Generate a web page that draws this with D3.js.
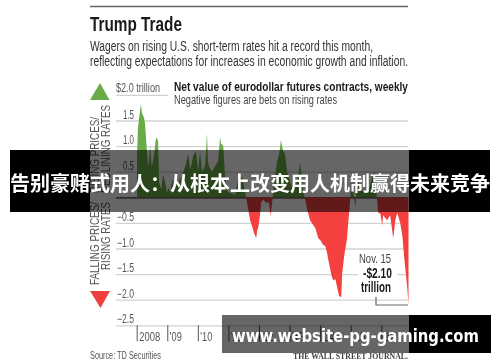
<!DOCTYPE html>
<html>
<head>
<meta charset="utf-8">
<script src="https://cdn.jsdelivr.net/npm/d3@7"></script>
<style>
  html, body { margin: 0; padding: 0; background: #fff; }
  svg { display: block; }
  .narrow { font-family: "Liberation Sans", sans-serif; }
  .tick text { font-family: "Liberation Sans", sans-serif; fill: #555; }
</style>
</head>
<body>
<svg id="chart" width="500" height="362"></svg>
<script>
// decimal year of each reading
const years = [
  2008.01, 2008.04, 2008.08, 2008.11, 2008.14, 2008.17, 2008.21, 2008.24, 2008.27, 2008.30,
  2008.34, 2008.37, 2008.40, 2008.44, 2008.49, 2008.53, 2008.57, 2008.63, 2008.66, 2008.70,
  2008.73, 2008.80, 2008.86, 2008.93, 2008.99, 2009.05, 2009.09, 2009.14, 2009.19, 2009.25,
  2009.32, 2009.37, 2009.42, 2009.47, 2009.52, 2009.60, 2009.68, 2009.75, 2009.80, 2009.84,
  2009.94, 2010.01, 2010.07, 2010.14, 2010.24, 2010.30, 2010.33, 2010.37, 2010.46, 2010.56,
  2010.66, 2010.73, 2010.76, 2010.83, 2010.89, 2010.99, 2011.10, 2011.22, 2011.32, 2011.45,
  2011.55, 2011.61, 2011.65, 2011.71, 2011.81, 2011.84, 2011.91, 2011.94, 2011.97, 2012.00,
  2012.04, 2012.07, 2012.13, 2012.23, 2012.33, 2012.38, 2012.43, 2012.46, 2012.59, 2012.66,
  2012.72, 2012.79, 2012.85, 2012.92, 2013.02, 2013.12, 2013.25, 2013.35, 2013.41, 2013.44,
  2013.51, 2013.58, 2013.67, 2013.84, 2013.94, 2014.02, 2014.10, 2014.17, 2014.23, 2014.28,
  2014.33, 2014.38, 2014.43, 2014.50, 2014.56, 2014.62, 2014.69, 2014.72, 2014.79, 2014.88,
  2014.92, 2014.95, 2014.98, 2015.02, 2015.10, 2015.15, 2015.18, 2015.21, 2015.28, 2015.41,
  2015.57, 2015.77, 2015.87, 2015.90, 2015.97, 2016.03, 2016.06, 2016.19, 2016.29, 2016.39,
  2016.46, 2016.52, 2016.62, 2016.69, 2016.75, 2016.82, 2016.85, 2016.89
];
// net value, trillions of dollars
const netValues = [
  0.80, 1.35, 1.55, 1.70, 1.82, 1.65, 1.60, 1.55, 1.45, 1.20,
  0.85, 0.60, 0.70, 1.00, 0.60, 0.70, 0.85, 1.15, 1.16, 1.10,
  0.30, 0.15, 0.45, 0.30, 0.10, 0.18, 0.10, 0.25, 0.35, 0.22,
  0.30, 0.22, 0.40, 0.28, 0.50, 0.62, 0.85, 0.55, 0.66, 0.80,
  0.90, 0.50, 0.90, 0.50, 0.62, 1.25, 0.70, 0.60, 0.50, 0.60,
  0.70, 1.18, 1.05, 1.00, 0.40, 0.10, 0.08, 0.05, 0.35, 0.40,
  0.10, -0.10, -0.25, -0.45, -0.64, -0.70, -0.80, -0.65, -0.60, -0.50,
  -0.30, -0.10, -0.05, -0.10, -0.10, -0.37, -0.10, 0.10, 0.70, 0.85,
  1.12, 0.90, 0.85, 0.50, 0.30, 0.15, 0.30, 0.67, 0.35, 0.15,
  -0.05, -0.25, -0.45, -0.60, -0.80, -0.85, -0.93, -0.95, -1.10, -1.26,
  -1.40, -1.55, -1.62, -1.60, -1.77, -1.93, -1.95, -1.50, -1.13, -0.80,
  -0.48, -0.30, -0.05, 0.30, 0.05, -0.20, 0.10, 0.47, 0.20, 0.10,
  0.10, 0.53, -0.10, -0.30, -0.32, -0.55, -0.35, -0.45, -0.35, -0.80,
  -0.45, -0.30, -0.50, -0.75, -1.18, -1.60, -1.77, -2.10
];

const valueTicks = [2.0, 1.5, 1.0, 0.5, 0, -0.5, -1.0, -1.5, -2.0, -2.5];
const yearTicks = [2008, 2009, 2010, 2011, 2012, 2013, 2014, 2015, 2016];
const yearLabels = ["2008", "'09", "'10", "'11", "'12", "'13", "'14", "'15", "'16"];

const titleText = "Trump Trade";
const subtitleLines = [
  "Wagers on rising U.S. short-term rates hit a record this month,",
  "reflecting expectations for increases in economic growth and inflation."
];
const bannerText = "告别豪赌式用人：从根本上改变用人机制赢得未来竞争";
const siteText = "www.website-pg-gaming.com";

const svg = d3.select("#chart");
const page = svg.append("g").style("filter", "blur(0.5px)");

const plotLeft = 116, plotRight = 408;
let x = d3.scaleLinear().domain([2008, 2016.89]).range([136.7, 408.5]);
let y = d3.scaleLinear().domain([0, -2.5]).range([197.3, 325.3]);

// helper, every text is fitted to the width it has in the picture
function label(parent, str, px, py, size, len, opts) {
  opts = opts || {};
  let t = parent.append("text")
    .attr("x", px).attr("y", py)
    .attr("class", opts.font ? null : "narrow")
    .attr("font-size", size)
    .attr("font-weight", opts.bold ? "bold" : "normal")
    .attr("fill", opts.fill || "#333")
    .text(str);
  if (opts.font) t.attr("font-family", opts.font);
  if (len) t.attr("textLength", len).attr("lengthAdjust", "spacingAndGlyphs");
  return t;
}

page.append("line").attr("x1", 90).attr("x2", 408).attr("y1", 6.5).attr("y2", 6.5)
  .attr("stroke", "#666").attr("stroke-width", 1.5);

label(page, titleText, 90, 31, 21, 92, {bold: true, fill: "#1a1a1a"});
label(page, subtitleLines[0], 90, 51, 14, 283);
label(page, subtitleLines[1], 90, 66, 14, 318);
label(page, "$2.0 trillion", 116, 92, 12, 44, {fill: "#555"});
label(page, "Net value of eurodollar futures contracts, weekly", 174, 91, 13, 234, {bold: true, fill: "#1a1a1a"});
label(page, "Negative figures are bets on rising rates", 174, 104, 12, 163, {fill: "#444"});

// y axis, its ticks are the grid
let yAxis = d3.axisLeft(y).tickValues(valueTicks).tickSize(-(plotRight - plotLeft))
  .tickFormat(d => d === 0 || d === 2 ? "" : d3.format(".1f")(d));
let gy = page.append("g").attr("transform", `translate(${plotLeft},0)`).call(yAxis);
gy.select(".domain").remove();
gy.selectAll(".tick line").attr("stroke", "#d2d2d2").attr("stroke-width", 1.3);
gy.selectAll(".tick").filter(d => d === 2).select("line").attr("x2", 52);
gy.selectAll(".tick").filter(d => d === 0).select("line").attr("stroke", "#333");
gy.selectAll(".tick text")
  .attr("x", 18).attr("dy", "-0.2em").attr("text-anchor", "end")
  .attr("font-size", 12)
  .attr("textLength", d => d < 0 ? 17 : 11)
  .attr("lengthAdjust", "spacingAndGlyphs");

// green above zero, red below
let area = d3.area()
  .x((d, i) => x(years[i]))
  .y0(y(0))
  .y1(d => y(d));
let defs = svg.append("defs");
defs.append("clipPath").attr("id", "above").append("rect")
  .attr("x", 0).attr("width", 500).attr("y", 0).attr("height", y(0));
defs.append("clipPath").attr("id", "below").append("rect")
  .attr("x", 0).attr("width", 500).attr("y", y(0)).attr("height", 362 - y(0));
page.append("path").datum(netValues).attr("d", area).attr("fill", "#69ab47").attr("clip-path", "url(#above)");
page.append("path").datum(netValues).attr("d", area).attr("fill", "#f4403f").attr("clip-path", "url(#below)");

// x axis, long ticks with the year to the right of them
let xAxis = d3.axisBottom(x).tickValues(yearTicks).tickSize(16)
  .tickFormat((d, i) => yearLabels[i]);
let gx = page.append("g").attr("transform", `translate(0,${y(-2.5)})`).call(xAxis);
gx.select(".domain").remove();
gx.selectAll(".tick line").attr("stroke", "#555");
gx.selectAll(".tick text")
  .attr("text-anchor", "start").attr("x", 2).attr("y", 7).attr("dy", "0.71em")
  .attr("font-size", 12)
  .attr("textLength", d => d === 2008 ? 21 : 12)
  .attr("lengthAdjust", "spacingAndGlyphs");

// direction arrows
let tri = d3.line();
page.append("path").attr("d", tri([[100, 83], [109.5, 100], [90, 100]]) + "Z").attr("fill", "#69ab47");
page.append("path").attr("d", tri([[90, 291], [110, 291], [100.5, 308]]) + "Z").attr("fill", "#ef4040");

function sideLabel(str, px, py, len) {
  label(page, str, 0, 0, 13, len, {fill: "#555"})
    .attr("transform", `translate(${px},${py}) rotate(-90)`);
}
sideLabel("RISING PRICES/", 98.5, 193, 76);
sideLabel("DECLINING RATES", 110, 193, 88);
sideLabel("FALLING PRICES/", 98.5, 285, 83);
sideLabel("RISING RATES", 110, 270, 68);

// last reading note
page.append("rect").attr("x", 358).attr("y", 252).attr("width", 39).attr("height", 44).attr("fill", "#fff");
label(page, "Nov. 15", 359, 263, 13, 32, {fill: "#444"});
label(page, "-$2.10", 363, 278, 14, 29, {bold: true, fill: "#1a1a1a"});
label(page, "trillion", 361, 292, 14, 30, {bold: true, fill: "#1a1a1a"});
page.append("path").attr("d", d3.line()([[376, 297], [376, 305], [408, 305]]))
  .attr("fill", "none").attr("stroke", "#666").attr("stroke-width", 1.2);

label(page, "Source: TD Securities", 90, 359, 11, 71, {fill: "#555"});
label(page, "THE WALL STREET JOURNAL.", 293, 359, 9, 115, {font: "Liberation Serif", bold: true, fill: "#444"});

// site banners on top of the picture
function banner(x0, y0, x1, y1) {
  svg.append("rect").attr("x", x0).attr("y", y0).attr("width", x1 - x0).attr("height", y1 - y0)
    .attr("fill", "#000");
}
banner(10, 150, 90, 212);
banner(409, 150, 490, 212);
banner(409, 315, 491, 353);
svg.append("rect").attr("x", 90).attr("y", 150).attr("width", 319).attr("height", 62)
  .attr("fill", "#000").attr("opacity", 0.6);
svg.append("rect").attr("x", 222).attr("y", 315).attr("width", 187).attr("height", 38)
  .attr("fill", "#000").attr("opacity", 0.6);

svg.append("text").attr("x", 10).attr("y", 191)
  .attr("font-family", "Noto Sans CJK SC").attr("font-size", 20).attr("font-weight", "bold")
  .attr("fill", "#fff").attr("textLength", 480).text(bannerText);
svg.append("text").attr("x", 232).attr("y", 342)
  .attr("font-family", "DejaVu Sans").attr("font-size", 18).attr("font-weight", "bold")
  .attr("fill", "#fff").attr("textLength", 247).attr("lengthAdjust", "spacingAndGlyphs").text(siteText);
</script>
</body>
</html>
